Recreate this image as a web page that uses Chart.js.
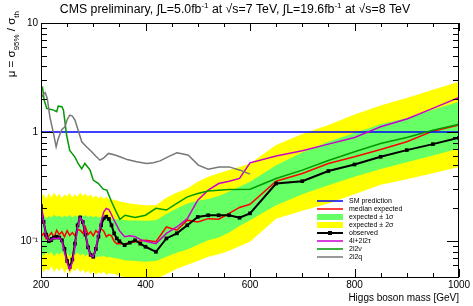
<!DOCTYPE html>
<html><head><meta charset="utf-8">
<script src="https://cdn.jsdelivr.net/npm/chart.js@4"></script>
<style>html,body{margin:0;padding:0;background:#fff}#wrap{width:473px;height:306px}</style>
</head><body><div id="wrap"><canvas id="c" width="473" height="306"></canvas></div>
<script>
// ---- data ----
const massBand = [200,205,210,215,220,225,230,235,240,245,250,255,260,265,270,275,280,285,290,295,300,305,310,315,320,325,330,340,350,360,380,400,420,440,460,480,500,520,540,560,580,600,650,700,750,800,850,900,950,1000];
const band2Lo = [0.058,0.052,0.056,0.054,0.059,0.052,0.057,0.053,0.058,0.051,0.056,0.050,0.055,0.053,0.057,0.052,0.055,0.051,0.054,0.050,0.053,0.049,0.052,0.050,0.053,0.049,0.051,0.050,0.048,0.047,0.046,0.045,0.045,0.050,0.056,0.061,0.066,0.072,0.076,0.082,0.090,0.099,0.161,0.190,0.222,0.270,0.330,0.370,0.420,0.480];
const band1Lo = [0.077,0.074,0.079,0.076,0.080,0.073,0.078,0.075,0.080,0.074,0.078,0.072,0.077,0.075,0.079,0.074,0.077,0.073,0.076,0.072,0.074,0.071,0.073,0.072,0.074,0.071,0.072,0.070,0.069,0.067,0.066,0.065,0.066,0.072,0.079,0.084,0.093,0.102,0.108,0.120,0.138,0.156,0.214,0.270,0.326,0.390,0.460,0.530,0.610,0.708];
const band1Hi = [0.167,0.172,0.162,0.170,0.165,0.175,0.168,0.172,0.165,0.171,0.167,0.174,0.166,0.172,0.168,0.175,0.169,0.173,0.167,0.171,0.166,0.170,0.165,0.168,0.163,0.167,0.162,0.160,0.158,0.156,0.155,0.154,0.156,0.178,0.200,0.222,0.235,0.244,0.260,0.285,0.315,0.350,0.498,0.650,0.815,0.980,1.180,1.350,1.600,1.900];
const band2Hi = [0.255,0.270,0.245,0.275,0.250,0.280,0.255,0.272,0.248,0.268,0.258,0.277,0.250,0.270,0.256,0.280,0.260,0.272,0.255,0.268,0.250,0.262,0.248,0.258,0.245,0.255,0.242,0.240,0.232,0.226,0.218,0.214,0.214,0.250,0.280,0.305,0.350,0.390,0.420,0.450,0.480,0.516,0.760,0.960,1.160,1.450,1.750,2.050,2.450,2.890];

const massMedian = [200,205,210,215,220,225,230,235,240,245,250,255,260,265,270,275,280,285,290,295,300,305,310,315,320,325,330,335,340,345,360,380,400,420,440,460,480,500,520,540,560,580,600,650,700,750,800,850,900,950,1000];
const medianExp = [0.110,0.118,0.105,0.112,0.120,0.108,0.126,0.115,0.122,0.110,0.125,0.113,0.120,0.112,0.128,0.126,0.118,0.135,0.115,0.122,0.112,0.125,0.118,0.130,0.124,0.110,0.115,0.112,0.100,0.095,0.095,0.099,0.102,0.099,0.135,0.126,0.156,0.150,0.161,0.159,0.180,0.204,0.218,0.355,0.418,0.516,0.594,0.694,0.815,1.020,1.160];

const massObs = [200,205,210,215,220,225,230,235,240,245,250,255,260,265,270,275,280,285,290,295,300,305,310,315,320,325,330,335,340,345,350,360,370,380,390,400,420,440,460,480,500,520,540,560,580,600,650,700,750,800,850,900,950,1000];
const observed = [0.210,0.150,0.115,0.100,0.105,0.108,0.110,0.108,0.102,0.085,0.066,0.058,0.068,0.095,0.140,0.165,0.150,0.115,0.088,0.075,0.072,0.085,0.110,0.140,0.162,0.168,0.160,0.140,0.118,0.106,0.100,0.092,0.097,0.102,0.095,0.089,0.080,0.106,0.118,0.140,0.167,0.173,0.173,0.173,0.164,0.180,0.338,0.355,0.440,0.505,0.594,0.684,0.776,0.887];

const mass4l = [200,205,210,215,220,225,230,235,240,245,250,255,260,265,270,275,280,285,290,295,300,305,310,315,320,325,330,335,340,345,350,360,370,380,390,400,420,440,460,480,500,520,540,560,580,600,650,700,750,800,850,900,950,1000];
const values4l = [0.210,0.150,0.112,0.100,0.104,0.107,0.105,0.108,0.100,0.080,0.063,0.055,0.064,0.090,0.135,0.165,0.152,0.118,0.088,0.074,0.072,0.086,0.115,0.150,0.185,0.200,0.195,0.175,0.155,0.140,0.125,0.110,0.112,0.110,0.104,0.100,0.095,0.118,0.135,0.161,0.238,0.294,0.338,0.355,0.376,0.523,0.603,0.674,0.776,0.894,1.120,1.320,1.650,2.080];

const mass2l2nu = [200,203,206,211,224,230,233,240,243,249,255,265,271,278,284,294,300,310,319,326,335,344,351,361,380,400,420,440,460,480,500,520,560,600,650,700,750,800,850,900,950,1000];
const values2l2nu = [2.43,2.55,1.97,1.65,1.59,1.54,1.73,1.71,1.59,0.94,0.68,0.59,0.516,0.46,0.516,0.448,0.363,0.338,0.300,0.294,0.230,0.186,0.159,0.173,0.165,0.173,0.200,0.193,0.222,0.255,0.274,0.289,0.298,0.300,0.376,0.448,0.550,0.660,0.787,0.894,1.040,1.180];

const mass2l2q = [200,204,208,212,217,224,229,233,240,246,250,255,260,265,278,287,297,305,313,320,329,340,351,365,383,402,415,428,445,460,472,482,501,520,541,560,581,600];
const values2l2q = [2.04,2.20,2.30,2.04,1.38,0.97,0.733,0.875,1.06,1.12,1.30,1.43,1.40,1.29,0.815,0.733,0.660,0.600,0.553,0.580,0.638,0.620,0.594,0.560,0.534,0.516,0.525,0.545,0.600,0.646,0.630,0.615,0.498,0.458,0.480,0.480,0.448,0.412];

const massSM = [200,1000];
const valuesSM = [1,1];

const xTickLabels = [200,400,600,800,1000];
const yTickLabels = {10:'10', 1:'1', 0.1:'10\u207B\u00B9'};

// ---- styles ----
const C = {yellow:'#ffff00', band:'#66ff66', red:'#ff0000', blue:'#0000ff', black:'#000000', magenta:'#cc00cc', green:'#009900', gray:'#777777'};
const FONT = "'Liberation Sans', Arial, Helvetica, sans-serif";
Chart.defaults.font.family = FONT;
Chart.defaults.color = '#000';

const pts = (xs, ys) => xs.map((x,i)=>({x, y: ys[i]}));

const datasets = [
  {label:'2s hi', data:pts(massBand,band2Hi), borderWidth:0, pointRadius:0, backgroundColor:C.yellow, fill:{target:1}, order:10},
  {label:'2s lo', data:pts(massBand,band2Lo), borderWidth:0, pointRadius:0, fill:false, order:10},
  {label:'1s hi', data:pts(massBand,band1Hi), borderWidth:0, pointRadius:0, backgroundColor:C.band, fill:{target:3}, order:9},
  {label:'1s lo', data:pts(massBand,band1Lo), borderWidth:0, pointRadius:0, fill:false, order:9},
  {label:'median expected', data:pts(massMedian,medianExp), borderColor:C.red, borderWidth:1.5, pointRadius:0, fill:false, order:8},
  {label:'SM prediction', data:pts(massSM,valuesSM), borderColor:C.blue, borderWidth:1.5, pointRadius:0, fill:false, order:7},
  {label:'observed', data:pts(massObs,observed), borderColor:C.black, backgroundColor:C.black, borderWidth:2, pointRadius:2.6, pointStyle:'rect', pointBorderWidth:0, fill:false, order:6},
  {label:'4l+2l2τ', data:pts(mass4l,values4l), borderColor:C.magenta, borderWidth:1.5, pointRadius:0, fill:false, order:5},
  {label:'2l2ν', data:pts(mass2l2nu,values2l2nu), borderColor:C.green, borderWidth:1.5, pointRadius:0, fill:false, order:4},
  {label:'2l2q', data:pts(mass2l2q,values2l2q), borderColor:C.gray, borderWidth:1.5, pointRadius:0, fill:false, order:3}
];

const legendItems = [
  {label:'SM prediction', kind:'line', color:C.blue},
  {label:'median expected', kind:'line', color:C.red},
  {label:'expected \u00B1 1\u03C3', kind:'box', color:C.band},
  {label:'expected \u00B1 2\u03C3', kind:'box', color:C.yellow},
  {label:'observed', kind:'marker', color:C.black},
  {label:'4l+2l2\u03C4', kind:'line', color:C.magenta},
  {label:'2l2\u03BD', kind:'line', color:C.green},
  {label:'2l2q', kind:'line', color:C.gray}
];

function isDecade(v){ const l=Math.log10(v); return Math.abs(l-Math.round(l))<1e-6; }
function onGrid(v){ const e=Math.floor(Math.log10(v)+1e-9); const s=v/Math.pow(10,e); return Math.abs(s-Math.round(s))<1e-6; }

function drawPieces(ctx, pieces, x, y){
  let cx = x;
  pieces.forEach(p=>{ ctx.font = p.size+'px '+FONT; ctx.fillText(p.t, cx, y + (p.dy||0)); cx += ctx.measureText(p.t).width; });
  return cx - x;
}
function piecesWidth(ctx, pieces){ let w=0; pieces.forEach(p=>{ctx.font=p.size+'px '+FONT; w+=ctx.measureText(p.t).width;}); return w; }

const decor = {
  id:'decor',
  afterDatasetsDraw(chart){
    const ctx = chart.ctx, a = chart.chartArea, xs = chart.scales.x, ys = chart.scales.y;
    ctx.save();
    ctx.strokeStyle = '#000'; ctx.lineWidth = 1;
    ctx.beginPath();
    xs.ticks.forEach(t=>{
      const px = Math.round(xs.getPixelForValue(t.value))+0.5;
      const len = (t.value % 200 === 0) ? 8 : 4;
      ctx.moveTo(px, a.bottom); ctx.lineTo(px, a.bottom-len);
      ctx.moveTo(px, a.top); ctx.lineTo(px, a.top+len);
    });
    ys.ticks.forEach(t=>{
      if (!onGrid(t.value)) return;
      const py = Math.round(ys.getPixelForValue(t.value))+0.5;
      const len = isDecade(t.value) ? 12 : 6;
      ctx.moveTo(a.left, py); ctx.lineTo(a.left+len, py);
      ctx.moveTo(a.right, py); ctx.lineTo(a.right-len, py);
    });
    ctx.stroke();
    ctx.strokeRect(Math.round(a.left)+0.5, Math.round(a.top)+0.5, Math.round(a.right-a.left)-1, Math.round(a.bottom-a.top));
    // legend
    const lx0 = 317, lx1 = 343, tx = 349; let ly = 201; const step = 8;
    ctx.font = '7px '+FONT; ctx.textBaseline = 'middle'; ctx.textAlign='left';
    legendItems.forEach(it=>{
      if (it.kind === 'box') { ctx.fillStyle = it.color; ctx.fillRect(lx0, ly-3, lx1-lx0, 6); }
      else {
        ctx.strokeStyle = it.color; ctx.lineWidth = it.kind==='marker'?2:1.5;
        ctx.beginPath(); ctx.moveTo(lx0, ly); ctx.lineTo(lx1, ly); ctx.stroke();
        if (it.kind==='marker'){ ctx.fillStyle = it.color; ctx.fillRect((lx0+lx1)/2-2, ly-2, 4, 4); }
      }
      ctx.fillStyle = '#000'; ctx.fillText(it.label, tx, ly+0.5);
      ly += step;
    });
    // title
    ctx.textBaseline = 'alphabetic'; ctx.fillStyle='#000';
    const title = [
      {t:'CMS preliminary, \u222BL=5.0fb', size:12.3},{t:'-1', size:8, dy:-4.5},
      {t:' at \u221As=7 TeV, \u222BL=19.6fb', size:12.3},{t:'-1', size:8, dy:-4.5},
      {t:' at \u221As=8 TeV', size:12.3}
    ];
    const tw = piecesWidth(ctx, title);
    drawPieces(ctx, title, 235 - tw/2, 12.5);
    // y title (rotated)
    const yt = [
      {t:'\u03BC = \u03C3', size:11.5},{t:'95%', size:8, dy:3.5},
      {t:' / \u03C3', size:11.5},{t:'th', size:8, dy:3.5}
    ];
    const yw = piecesWidth(ctx, yt);
    ctx.save(); ctx.translate(15, 11 + yw); ctx.rotate(-Math.PI/2);
    drawPieces(ctx, yt, 0, 0);
    ctx.restore();
    ctx.restore();
  }
};

new Chart(document.getElementById('c'), {
  type:'line',
  data:{datasets},
  plugins:[decor],
  options:{
    responsive:false, animation:false, devicePixelRatio:1,
    layout:{padding:{top:23, right:14, left:0, bottom:0}},
    plugins:{legend:{display:false}, tooltip:{enabled:false}, title:{display:false}},
    elements:{line:{tension:0}},
    scales:{
      x:{type:'linear', min:200, max:1000,
         afterFit(s){ s.height = 29; },
         grid:{display:false, drawTicks:false}, border:{display:false},
         ticks:{stepSize:50, autoSkip:false, maxRotation:0, padding:2, font:{size:10},
                callback:(v)=> xTickLabels.includes(v) ? String(v) : ''},
         title:{display:true, text:'Higgs boson mass [GeV]', align:'end', font:{size:10}, padding:{top:0,bottom:2}}},
      y:{type:'logarithmic', min:0.047, max:10,
         afterFit(s){ s.width = 41; },
         grid:{display:false, drawTicks:false}, border:{display:false},
         ticks:{autoSkip:false, padding:3, font:{size:10},
                callback:(v)=>{ for (const k in yTickLabels){ if (Math.abs(v-Number(k))<1e-9) return yTickLabels[k]; } return ''; }}}
    }
  }
});
</script></body></html>
